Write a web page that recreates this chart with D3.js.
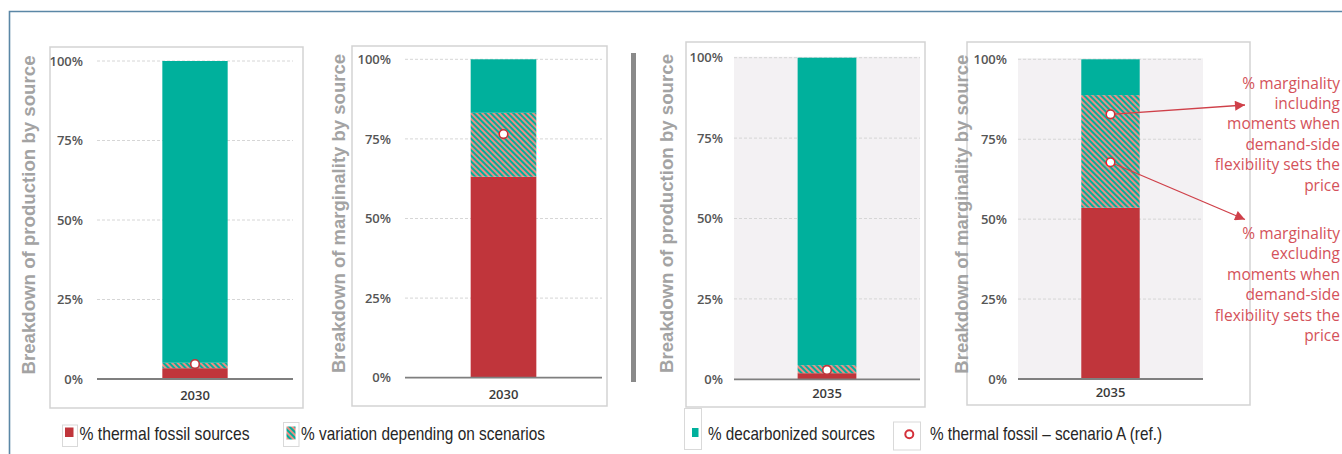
<!DOCTYPE html>
<html>
<head>
<meta charset="utf-8">
<script src="https://cdn.jsdelivr.net/npm/d3@7"></script>
<style>
  html, body { margin: 0; padding: 0; background: #ffffff; }
  svg { display: block; }
</style>
</head>
<body>
<svg id="chart" width="1342" height="454"></svg>
<script>
// ---- data (percent of total) ----
const categories = ["2030", "2030", "2035", "2035"];
const axisTitles = [
  "Breakdown of production by source",
  "Breakdown of marginality by source",
  "Breakdown of production by source",
  "Breakdown of marginality by source"
];
const fossil       = [3.4, 63.1, 1.9, 53.6];   // % thermal fossil sources
const variation    = [1.7, 20.1, 2.5, 35.2];   // % variation depending on scenarios
const decarbonized = [94.9, 16.8, 95.6, 11.2]; // % decarbonized sources
const scenarioA    = [[4.7], [76.5], [2.9], [82.8, 67.8]]; // % thermal fossil – scenario A (ref.)
const tickValues   = [0, 25, 50, 75, 100];
const tickLabels   = ["0%", "25%", "50%", "75%", "100%"];
const legendLabels = [
  "% thermal fossil sources",
  "% variation depending on scenarios",
  "% decarbonized sources",
  "% thermal fossil – scenario A (ref.)"
];
const noteIncluding = ["% marginality", "including", "moments when", "demand-side", "flexibility sets the", "price"];
const noteExcluding = ["% marginality", "excluding", "moments when", "demand-side", "flexibility sets the", "price"];

// ---- layout ----
const panels = [
  { box: [50, 47, 303, 408],   grid: [97, 293],   y0: 379,   y1: 61,   pad: 0.50, titleX: 30,  label: 397, shade: false },
  { box: [352, 46, 607, 406],  grid: [405, 602],  y0: 377.7, y1: 59.3, pad: 0.50, titleX: 340, label: 396, shade: false },
  { box: [686, 42, 925, 407],  grid: [734, 920],  y0: 379.3, y1: 57.7, pad: 0.52, titleX: 668, label: 395, shade: true },
  { box: [967, 42, 1250, 405], grid: [1018, 1203], y0: 379,  y1: 59.3, pad: 0.52, titleX: 963, label: 394, shade: true }
];

const C = {
  red: "#c0353b",
  teal: "#00b09c",
  salmon: "#ec8d84",
  frame: "#5b87a6",
  box: "#d3d3d3",
  grid: "#d6d6d6",
  tick: "#555555",
  title: "#a3a3a3",
  note: "#d4525a",
  arrow: "#cf4049"
};

const svg = d3.select("#chart");
const defs = svg.append("defs");

// diagonal teal / salmon stripes for the scenario range
const pat = defs.append("pattern")
  .attr("id", "stripes")
  .attr("patternUnits", "userSpaceOnUse")
  .attr("width", 4).attr("height", 4)
  .attr("patternTransform", "rotate(-45)");
pat.append("rect").attr("width", 4).attr("height", 4).attr("fill", C.teal);
pat.append("rect").attr("width", 2).attr("height", 4).attr("fill", C.salmon);

defs.append("marker")
  .attr("id", "arrowhead")
  .attr("viewBox", "0 0 10 10")
  .attr("refX", 10).attr("refY", 5)
  .attr("markerUnits", "userSpaceOnUse")
  .attr("markerWidth", 13).attr("markerHeight", 10)
  .attr("orient", "auto")
  .append("path").attr("d", "M0,0 L10,5 L0,10 Z").attr("fill", C.arrow);

// outer frame (top and left edges)
svg.append("path")
  .attr("d", "M9.5,454 L9.5,11.5 L1342,11.5")
  .attr("fill", "none").attr("stroke", C.frame).attr("stroke-width", 1.6);

// separator between the 2030 and 2035 pairs
svg.append("rect")
  .attr("x", 631).attr("y", 53).attr("width", 5).attr("height", 329)
  .attr("fill", "#8a8a8a");

const keys = ["fossil", "variation", "decarbonized"];
const fills = { fossil: C.red, variation: "url(#stripes)", decarbonized: C.teal };

const scales = [];

panels.forEach((p, i) => {
  const g = svg.append("g");
  const [bx0, by0, bx1, by1] = p.box;

  g.append("rect")
    .attr("x", bx0).attr("y", by0)
    .attr("width", bx1 - bx0).attr("height", by1 - by0)
    .attr("fill", "#ffffff").attr("stroke", C.box).attr("stroke-width", 1.5);

  const y = d3.scaleLinear().domain([0, 100]).range([p.y0, p.y1]);
  const x = d3.scaleBand().domain([categories[i]]).range(p.grid).padding(p.pad);
  scales.push({ x, y });

  if (p.shade) {
    g.append("rect")
      .attr("x", p.grid[0]).attr("y", y(100) - 1)
      .attr("width", p.grid[1] - p.grid[0]).attr("height", y(0) - y(100) + 1)
      .attr("fill", "#f3f1f3");
  }

  // dotted gridlines
  g.selectAll(".grid")
    .data(tickValues.filter(v => v > 0))
    .join("line")
    .attr("x1", p.grid[0]).attr("x2", p.grid[1])
    .attr("y1", d => y(d)).attr("y2", d => y(d))
    .attr("stroke", C.grid).attr("stroke-width", 1)
    .attr("stroke-dasharray", "3,2");

  // y axis tick labels
  const yAxis = d3.axisLeft(y)
    .tickValues(tickValues)
    .tickFormat((d, k) => tickLabels[k])
    .tickSize(0).tickPadding(i < 2 ? 14 : 11);
  const ya = g.append("g").attr("transform", `translate(${p.grid[0]},0)`).call(yAxis);
  ya.select(".domain").remove();
  ya.selectAll("text")
    .attr("fill", C.tick)
    .style("font-family", "'Open Sans', sans-serif")
    .style("font-weight", 600)
    .style("font-size", "13px");

  // stacked bar
  const row = { cat: categories[i], fossil: fossil[i], variation: variation[i], decarbonized: decarbonized[i] };
  const series = d3.stack().keys(keys)([row]);
  g.selectAll(".seg")
    .data(series)
    .join("rect")
    .attr("x", x(categories[i]))
    .attr("width", x.bandwidth())
    .attr("y", s => y(s[0][1]))
    .attr("height", s => y(s[0][0]) - y(s[0][1]))
    .attr("fill", s => fills[s.key]);

  // baseline
  g.append("line")
    .attr("x1", p.grid[0]).attr("x2", p.grid[1])
    .attr("y1", y(0)).attr("y2", y(0))
    .attr("stroke", "#7f7f7f").attr("stroke-width", 1.8);

  // category label
  g.append("text")
    .attr("x", x(categories[i]) + x.bandwidth() / 2)
    .attr("y", p.label)
    .attr("text-anchor", "middle")
    .attr("dominant-baseline", "middle")
    .attr("fill", "#3a3a3a")
    .style("font-family", "'Open Sans', sans-serif")
    .style("font-weight", 600)
    .style("font-size", "13px")
    .text(categories[i]);

  // axis title
  const cy = (p.y0 + p.y1) / 2 - 5;
  g.append("text")
    .attr("transform", `translate(${p.titleX},${cy}) rotate(-90)`)
    .attr("text-anchor", "middle")
    .attr("dominant-baseline", "middle")
    .attr("fill", C.title)
    .attr("textLength", 319)
    .attr("lengthAdjust", "spacingAndGlyphs")
    .style("font-family", "'Liberation Sans', Arial, sans-serif")
    .style("font-weight", 700)
    .style("font-size", "18px")
    .text(axisTitles[i]);
});

// annotations for the 2035 marginality panel (drawn before the markers)
const s4 = scales[3];
const cx4 = s4.x(categories[3]) + s4.x.bandwidth() / 2;
const arrowTips = [[1245, 105], [1245, 219.5]];
scenarioA[3].forEach((v, k) => {
  const sx = cx4, sy = s4.y(v);
  svg.append("line")
    .attr("x1", sx).attr("y1", sy)
    .attr("x2", arrowTips[k][0]).attr("y2", arrowTips[k][1])
    .attr("stroke", C.arrow).attr("stroke-width", 1.3)
    .attr("marker-end", "url(#arrowhead)");
});

// scenario A reference markers
scenarioA.forEach((vals, i) => {
  const { x, y } = scales[i];
  svg.selectAll(null)
    .data(vals)
    .join("circle")
    .attr("cx", x(categories[i]) + x.bandwidth() / 2)
    .attr("cy", d => y(d))
    .attr("r", 4.3)
    .attr("fill", "#ffffff")
    .attr("stroke", C.red)
    .attr("stroke-width", 1.6);
});

function noteBlock(lines, top) {
  svg.append("text")
    .attr("text-anchor", "end")
    .attr("fill", C.note)
    .style("font-family", "'Open Sans', sans-serif")
    .style("font-size", "15.5px")
    .selectAll("tspan")
    .data(lines)
    .join("tspan")
    .attr("x", 1340)
    .attr("y", (d, k) => top + k * 20.4)
    .text(d => d);
}
noteBlock(noteIncluding, 88.5);
noteBlock(noteExcluding, 239);

// ---- legend ----
const legend = svg.append("g");
const lgFont = (sel) => sel
  .attr("fill", "#262626")
  .attr("lengthAdjust", "spacingAndGlyphs")
  .style("font-family", "'Liberation Sans Narrow', 'Liberation Sans', Arial, sans-serif")
  .style("font-size", "19px");

// thermal fossil
legend.append("rect").attr("x", 62.5).attr("y", 425).attr("width", 15).attr("height", 21.5)
  .attr("fill", "#fff").attr("stroke", "#d9d9d9");
legend.append("rect").attr("x", 65).attr("y", 427.5).attr("width", 8.5).attr("height", 9.5).attr("fill", C.red);
legend.append("text").attr("x", 79.5).attr("y", 440).attr("textLength", 170).call(lgFont).text(legendLabels[0]);

// variation
legend.append("rect").attr("x", 283.5).attr("y", 422.5).attr("width", 15.5).attr("height", 24)
  .attr("fill", "#fff").attr("stroke", "#d9d9d9");
legend.append("rect").attr("x", 286.5).attr("y", 426.5).attr("width", 9).attr("height", 13).attr("fill", "url(#stripes)");
legend.append("text").attr("x", 301).attr("y", 440).attr("textLength", 244).call(lgFont).text(legendLabels[1]);

// decarbonized
legend.append("rect").attr("x", 684.5).attr("y", 408.5).attr("width", 17).attr("height", 41)
  .attr("fill", "none").attr("stroke", "#d9d9d9");
legend.append("rect").attr("x", 692).attr("y", 428).attr("width", 6.5).attr("height", 9).attr("fill", C.teal);
legend.append("text").attr("x", 708).attr("y", 440).attr("textLength", 167).call(lgFont).text(legendLabels[2]);

// scenario A marker
legend.append("rect").attr("x", 893.5).attr("y", 422).attr("width", 27).attr("height", 28)
  .attr("fill", "#fff").attr("stroke", "#d9d9d9");
legend.append("circle").attr("cx", 909.3).attr("cy", 434.3).attr("r", 4)
  .attr("fill", "#fff").attr("stroke", "#d4303a").attr("stroke-width", 2);
legend.append("text").attr("x", 930).attr("y", 440).attr("textLength", 232).call(lgFont).text(legendLabels[3]);
</script>
</body>
</html>
